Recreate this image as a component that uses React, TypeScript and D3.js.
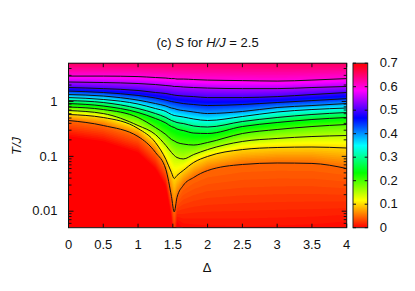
import React, { useRef, useEffect } from "react";
import * as d3 from "d3";

const deltas = [0, 0.5, 1, 1.25, 1.4, 1.48, 1.52, 1.56, 1.65, 1.8, 2, 2.5, 3, 3.5, 4];

// T/J along each entropy contour
const s001 = [0.25, 0.203, 0.128, 0.0655, 0.0308, 0.00875, 0.00248, 0.0071, 0.006, 0.00575, 0.0055, 0.0053, 0.0055, 0.00575, 0.00652];
const s005 = [0.451, 0.365, 0.23, 0.118, 0.0577, 0.0186, 0.0097, 0.0178, 0.0295, 0.0412, 0.0551, 0.0711, 0.0757, 0.0743, 0.06];
const s010 = [0.58, 0.511, 0.322, 0.179, 0.0879, 0.0508, 0.0395, 0.0448, 0.0553, 0.0774, 0.0996, 0.133, 0.145, 0.148, 0.142];
const s015 = [0.685, 0.604, 0.365, 0.25, 0.158, 0.118, 0.104, 0.0953, 0.0897, 0.108, 0.133, 0.187, 0.212, 0.23, 0.24];
const s020 = [0.794, 0.715, 0.511, 0.336, 0.25, 0.203, 0.191, 0.179, 0.168, 0.161, 0.179, 0.261, 0.309, 0.35, 0.381];
const s025 = [0.919, 0.828, 0.63, 0.49, 0.406, 0.35, 0.336, 0.315, 0.296, 0.266, 0.261, 0.35, 0.414, 0.47, 0.511];
const s030 = [1.04, 0.959, 0.745, 0.604, 0.511, 0.451, 0.432, 0.414, 0.397, 0.358, 0.343, 0.432, 0.511, 0.58, 0.63];
const s035 = [1.18, 1.09, 0.9, 0.745, 0.658, 0.58, 0.556, 0.544, 0.522, 0.48, 0.451, 0.533, 0.644, 0.715, 0.761];
const s040 = [1.34, 1.26, 1.06, 0.919, 0.828, 0.761, 0.745, 0.715, 0.685, 0.644, 0.604, 0.658, 0.778, 0.845, 0.919];
const s045 = [1.55, 1.46, 1.29, 1.16, 1.06, 1, 0.979, 0.959, 0.919, 0.882, 0.845, 0.882, 0.959, 1.04, 1.13];
const s050 = [1.8, 1.72, 1.59, 1.46, 1.4, 1.34, 1.31, 1.29, 1.26, 1.23, 1.18, 1.18, 1.23, 1.34, 1.46];
const s055 = [2.27, 2.22, 2.13, 2.04, 1.96, 1.92, 1.88, 1.88, 1.84, 1.8, 1.76, 1.72, 1.72, 1.8, 1.88];
const s060 = [2.91, 2.91, 2.85, 2.74, 2.68, 2.62, 2.62, 2.57, 2.57, 2.52, 2.46, 2.41, 2.36, 2.46, 2.62];
const s066 = [5, 5, 5, 5, 5, 5, 5, 5, 5, 5, 5, 5, 5, 5, 5];

const fillLevels = [0.01, 0.05, 0.1, 0.15, 0.2, 0.25, 0.3, 0.35, 0.4, 0.45, 0.5, 0.55, 0.6, 0.66];
const fillCurves = [s001, s005, s010, s015, s020, s025, s030, s035, s040, s045, s050, s055, s060, s066];
const drawnCurves = [s005, s010, s015, s020, s025, s030, s035, s040, s045, s050, s055, s060];

const xTicks = [0, 0.5, 1, 1.5, 2, 2.5, 3, 3.5, 4];
const yTicks = [0.01, 0.1, 1];
const yMinor = [0.006, 0.007, 0.008, 0.009, 0.02, 0.03, 0.04, 0.05, 0.06, 0.07, 0.08, 0.09, 0.2, 0.3, 0.4, 0.5, 0.6, 0.7, 0.8, 0.9, 2, 3, 4];
const cbTicks = [0, 0.1, 0.2, 0.3, 0.4, 0.5, 0.6, 0.7];

const width = 415;
const height = 291;
const left = 68.5;
const right = 346.7;
const top = 63.2;
const bottom = 227.7;
const cbLeft = 353;
const cbRight = 367.7;
const font = "'Liberation Sans', Arial, sans-serif";

// gnuplot hsv palette: one turn of hue over the entropy range
const color = (s: number) => d3.hsl((Math.min(s, 0.7) / 0.7) * 360, 1, 0.5).formatHex();

const App = () => {
  const container = useRef<SVGSVGElement>(null);

  useEffect(() => {
    const svg = d3.select(container.current);
    svg.selectAll("*").remove();

    const xScale = d3.scaleLinear().domain([0, 4]).range([left, right]);
    const yScale = d3.scaleLog().domain([0.005, 5]).range([bottom, top]);
    const cScale = d3.scaleLinear().domain([0, 0.7]).range([bottom, top]);

    const defs = svg.append("defs");
    defs
      .append("clipPath")
      .attr("id", "plot-clip")
      .append("rect")
      .attr("x", left)
      .attr("y", top)
      .attr("width", right - left)
      .attr("height", bottom - top);

    // entropy field on a one pixel grid, read between the contours of each column
    const nx = Math.round(right - left);
    const ny = Math.round(bottom - top);
    const curveAt = fillCurves.map(c =>
      d3.scaleLinear().domain(deltas).range(c.map(v => Math.log10(v)))
    );
    const field: number[] = new Array(nx * ny);
    for (let i = 0; i < nx; i++) {
      const delta = xScale.invert(left + ((i + 0.5) * (right - left)) / nx);
      const column = d3
        .scaleLinear()
        .domain(curveAt.map(c => c(delta)))
        .range(fillLevels);
      for (let j = 0; j < ny; j++) {
        const T = yScale.invert(top + ((j + 0.5) * (bottom - top)) / ny);
        field[j * nx + i] = Math.max(0, column(Math.log10(T)));
      }
    }

    const thresholds = d3.range(0.005, 0.7, 0.005);
    const contours = d3.contours().size([nx, ny]).smooth(true).thresholds(thresholds)(field);
    const path = d3.geoPath();

    const plot = svg.append("g").attr("clip-path", "url(#plot-clip)");
    plot
      .append("rect")
      .attr("x", left)
      .attr("y", top)
      .attr("width", right - left)
      .attr("height", bottom - top)
      .attr("fill", color(0));
    plot
      .append("g")
      .attr("transform", `translate(${left},${top}) scale(${(right - left) / nx},${(bottom - top) / ny})`)
      .selectAll("path")
      .data(contours)
      .enter()
      .append("path")
      .attr("d", d => path(d))
      .attr("fill", d => color(d.value));

    // black isentropes
    const line = d3
      .line<number>()
      .x((d, i) => xScale(deltas[i]))
      .y(d => yScale(d))
      .curve(d3.curveMonotoneX);
    plot
      .selectAll(".iso")
      .data(drawnCurves)
      .enter()
      .append("path")
      .attr("class", "iso")
      .attr("d", d => line(d))
      .attr("fill", "none")
      .attr("stroke", "#111")
      .attr("stroke-width", 1);

    // colorbar
    const grad = defs
      .append("linearGradient")
      .attr("id", "cb-grad")
      .attr("x1", 0)
      .attr("x2", 0)
      .attr("y1", 1)
      .attr("y2", 0);
    d3.range(0, 0.7001, 0.7 / 6).forEach(s => {
      grad.append("stop").attr("offset", s / 0.7).attr("stop-color", color(s));
    });
    svg
      .append("rect")
      .attr("x", cbLeft)
      .attr("y", top)
      .attr("width", cbRight - cbLeft)
      .attr("height", bottom - top)
      .attr("fill", "url(#cb-grad)")
      .attr("stroke", "#222")
      .attr("stroke-width", 1);

    // axes, ticks point inwards like gnuplot
    const styleAxis = (g: any, labels: boolean) => {
      g.select(".domain").remove();
      g.selectAll("line").attr("stroke", "#111");
      g.selectAll("text")
        .attr("fill", "#111")
        .style("font-family", font)
        .style("font-size", "13px");
      if (!labels) g.selectAll("text").remove();
    };
    const fmt = (d: any) => String(d);

    svg
      .append("g")
      .attr("transform", `translate(0,${bottom})`)
      .call(d3.axisBottom(xScale).tickValues(xTicks).tickFormat(fmt).tickSizeInner(-4).tickPadding(12).offset(0))
      .call((g: any) => styleAxis(g, true));
    svg
      .append("g")
      .attr("transform", `translate(0,${top})`)
      .call(d3.axisTop(xScale).tickValues(xTicks).tickSizeInner(-4).offset(0))
      .call((g: any) => styleAxis(g, false));

    svg
      .append("g")
      .attr("transform", `translate(${left},0)`)
      .call(d3.axisLeft(yScale).tickValues(yTicks).tickFormat(fmt).tickSizeInner(-5).tickPadding(11).offset(0))
      .call((g: any) => styleAxis(g, true));
    svg
      .append("g")
      .attr("transform", `translate(${left},0)`)
      .call(d3.axisLeft(yScale).tickValues(yMinor).tickSizeInner(-3).offset(0))
      .call((g: any) => styleAxis(g, false));
    svg
      .append("g")
      .attr("transform", `translate(${right},0)`)
      .call(d3.axisRight(yScale).tickValues(yTicks).tickSizeInner(-5).offset(0))
      .call((g: any) => styleAxis(g, false));
    svg
      .append("g")
      .attr("transform", `translate(${right},0)`)
      .call(d3.axisRight(yScale).tickValues(yMinor).tickSizeInner(-3).offset(0))
      .call((g: any) => styleAxis(g, false));

    svg
      .append("g")
      .attr("transform", `translate(${cbRight},0)`)
      .call(d3.axisRight(cScale).tickValues(cbTicks).tickFormat(fmt).tickSizeInner(-3).tickPadding(12).offset(0))
      .call((g: any) => styleAxis(g, true));
    svg
      .append("g")
      .attr("transform", `translate(${cbLeft},0)`)
      .call(d3.axisLeft(cScale).tickValues(cbTicks).tickSizeInner(-3).offset(0))
      .call((g: any) => styleAxis(g, false));

    // frame
    svg
      .append("rect")
      .attr("x", left)
      .attr("y", top)
      .attr("width", right - left)
      .attr("height", bottom - top)
      .attr("fill", "none")
      .attr("stroke", "#111")
      .attr("stroke-width", 1);

    // labels
    const title = svg
      .append("text")
      .attr("x", 207.5)
      .attr("y", 47)
      .attr("text-anchor", "middle")
      .attr("fill", "#111")
      .style("font-family", font)
      .style("font-size", "13px");
    title.append("tspan").text("(c) ");
    title.append("tspan").attr("font-style", "italic").text("S");
    title.append("tspan").text(" for ");
    title.append("tspan").attr("font-style", "italic").text("H/J");
    title.append("tspan").text(" = 2.5");

    svg
      .append("text")
      .attr("x", 207)
      .attr("y", 272)
      .attr("text-anchor", "middle")
      .attr("fill", "#111")
      .style("font-family", font)
      .style("font-size", "13px")
      .text("Δ");

    svg
      .append("text")
      .attr("transform", "translate(21,146) rotate(-90)")
      .attr("text-anchor", "middle")
      .attr("font-style", "italic")
      .attr("fill", "#111")
      .style("font-family", font)
      .style("font-size", "13px")
      .text("T/J");
  }, []);

  return (
    <svg
      ref={container}
      width={width}
      height={height}
      style={{ position: "absolute", left: 0, top: 0, background: "white" }}
    />
  );
};

export default App;
